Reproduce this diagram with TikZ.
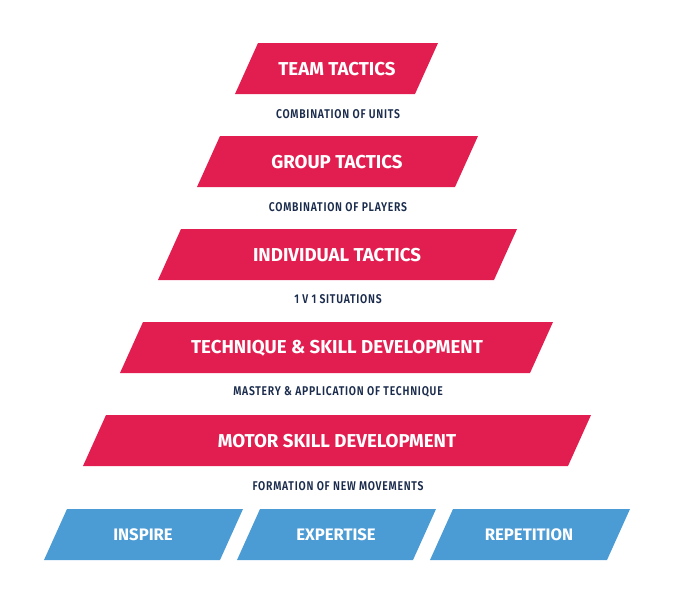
\documentclass[tikz,border=0pt]{standalone}
\usepackage{fontspec}
\setmainfont{Fira Sans}
\newfontfamily\condfont[FakeStretch=0.82,LetterSpace=6]{Fira Sans SemiBold}
\definecolor{rd}{HTML}{E21D4F}
\definecolor{bl}{HTML}{4B9BD5}
\definecolor{nv}{HTML}{1A2B4C}
\begin{document}
\begin{tikzpicture}[x=0.75pt,y=-0.75pt,
  ttl/.style={text=white,font=\fontsize{14}{16}\selectfont\bfseries},
  sub/.style={text=nv,font=\fontsize{9.5}{11}\condfont}]
\useasboundingbox (0,0) rectangle (673,600);
\newcommand\para[5]{\fill[#5] (#1+23,#3) -- (#2+23,#3) -- (#2,#3+51) -- (#1,#3+51) -- cycle;}
\para{235}{415}{43}{}{rd}
\para{197}{455}{136}{}{rd}
\para{158}{494}{229}{}{rd}
\para{120}{530}{322}{}{rd}
\para{83}{568}{415}{}{rd}
\para{44}{220}{509}{}{bl}
\para{237}{413}{509}{}{bl}
\para{430}{607}{509}{}{bl}
\node[ttl] (t1) at (337,69) {TEAM TACTICS};
\node[ttl] (t2) at (337,162) {GROUP TACTICS};
\node[ttl] (t3) at (337,255) {INDIVIDUAL TACTICS};
\node[ttl] (t4) at (337,348) {TECHNIQUE \& SKILL DEVELOPMENT};
\node[ttl] (t5) at (337,441) {MOTOR SKILL DEVELOPMENT};
\node[ttl,font=\fontsize{12.5}{14}\selectfont\bfseries] (b1) at (143,535) {INSPIRE};
\node[ttl,font=\fontsize{12.5}{14}\selectfont\bfseries] (b2) at (336,535) {EXPERTISE};
\node[ttl,font=\fontsize{12.5}{14}\selectfont\bfseries] (b3) at (529,535) {REPETITION};
\node[sub] (s1) at (338,114) {COMBINATION OF UNITS};
\node[sub] (s2) at (338,207) {COMBINATION OF PLAYERS};
\node[sub] (s3) at (338,299) {1 V 1 SITUATIONS};
\node[sub] (s4) at (338,392) {MASTERY \& APPLICATION OF TECHNIQUE};
\node[sub] (s5) at (338,486) {FORMATION OF NEW MOVEMENTS};
\end{tikzpicture}
\end{document}
